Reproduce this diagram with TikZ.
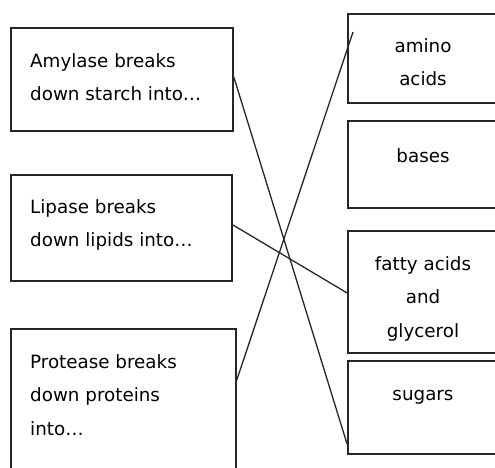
\documentclass[tikz,border=0pt]{standalone}
\usepackage{fontspec}
\setmainfont{DejaVu Sans}
\usetikzlibrary{calc}
\begin{document}
\begin{tikzpicture}[x=1pt,y=-1pt,
  box/.style={draw=black!85,line width=1.8pt,rectangle,inner sep=0pt,anchor=north west},
  lefttext/.style={anchor=north west,inner sep=0pt,align=left,text=black,font=\fontsize{18.3}{33.5}\selectfont},
  righttext/.style={anchor=north,inner sep=0pt,align=center,text=black,font=\fontsize{18.3}{33.5}\selectfont},
  link/.style={draw=black!85,line width=1.3pt}]
\useasboundingbox (0,0) rectangle (495,468);
\clip (0,0) rectangle (495,468);
% left boxes
\node[box,minimum width=222pt,minimum height=103pt] (amy) at (10,27) {};
\node[box,minimum width=221pt,minimum height=106pt] (lip) at (10,174) {};
\node[box,minimum width=225pt,minimum height=152pt] (pro) at (10,328) {};
% right boxes
\node[box,minimum width=163pt,minimum height=89pt] (ami) at (347,13) {};
\node[box,minimum width=163pt,minimum height=87pt] (bas) at (347,120) {};
\node[box,minimum width=163pt,minimum height=122pt] (fat) at (347,230) {};
\node[box,minimum width=163pt,minimum height=93pt] (sug) at (347,360) {};
% texts
\node[lefttext] (tamy) at (30,53) {\rule{0pt}{14pt}Amylase breaks\\down starch into…};
\node[lefttext] (tlip) at (30,199) {\rule{0pt}{14pt}Lipase breaks\\down lipids into…};
\node[lefttext] (tpro) at (30,354) {\rule{0pt}{14pt}Protease breaks\\down proteins\\into…};
\node[righttext] (tami) at (423,38) {\rule{0pt}{14pt}amino\\acids};
\node[righttext] (tbas) at (423,148) {\rule{0pt}{14pt}bases};
\node[righttext] (tfat) at (423,256) {\rule{0pt}{14pt}fatty acids\\and\\glycerol};
\node[righttext] (tsug) at (423,386) {\rule{0pt}{14pt}sugars};
% connectors
\draw[link] ([yshift=2.5pt]amy.east) -- ([yshift=11pt]sug.south west);
\draw[link] ([yshift=3pt]lip.east) -- ([yshift=-1pt]fat.west);
\draw[link] ([yshift=-52pt]pro.north east) -- ([xshift=6pt,yshift=-19pt]ami.north west);
\end{tikzpicture}
\end{document}
